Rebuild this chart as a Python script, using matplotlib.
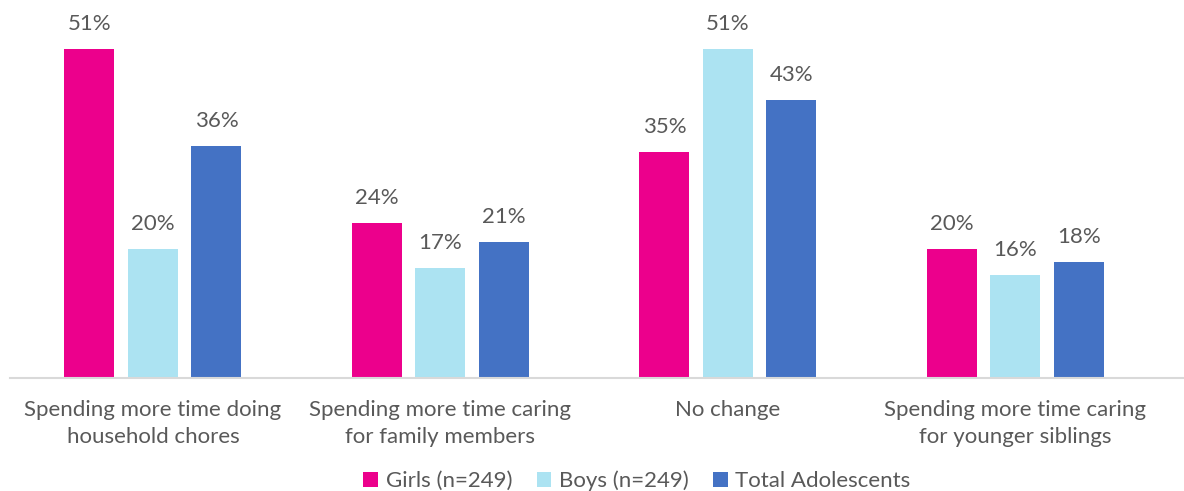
import numpy as np
import matplotlib.pyplot as plt

plt.rcParams['font.family'] = ['Lato', 'DejaVu Sans']

categories = ['Spending more time doing\nhousehold chores',
              'Spending more time caring\nfor family members',
              'No change',
              'Spending more time caring\nfor younger siblings']
series_names = ['Girls (n=249)', 'Boys (n=249)', 'Total Adolescents']
girls = [51, 24, 35, 20]
boys = [20, 17, 51, 16]
total = [36, 21, 43, 18]
colors = ['#EC008C', '#ACE3F2', '#4472C4']

text_c = '#595959'

fig = plt.figure(figsize=(11.84, 4.91), dpi=100)
ax = fig.add_axes([10 / 1184, 113 / 491, 1173 / 1184, 368 / 491])

x = np.arange(len(categories))
width = 0.174
step = 0.221

for i, (vals, name, c) in enumerate(zip([girls, boys, total], series_names, colors)):
    pos = x + (i - 1) * step
    ax.bar(pos, vals, width, color=c, label=name)
    for p, v in zip(pos, vals):
        ax.annotate(f'{v}%', (p, v), xytext=(0, 18), textcoords='offset points',
                    ha='center', va='center', fontsize=16, color=text_c)

ax.set_xlim(-0.497, 3.583)
ax.set_ylim(0, 57)
ax.set_yticks([])
ax.set_xticks(x)
ax.set_xticklabels(categories, fontsize=16, color=text_c, linespacing=1.45)
ax.tick_params(axis='x', length=0, pad=16)
for s in ['top', 'right', 'left']:
    ax.spines[s].set_visible(False)
ax.spines['bottom'].set_color('#D9D9D9')
ax.spines['bottom'].set_linewidth(1.5)

ax.legend(loc='center', bbox_to_anchor=(637 / 1184, 10 / 491),
          bbox_transform=fig.transFigure, ncol=3, frameon=False,
          fontsize=16, handlelength=0.65, handleheight=0.65,
          handletextpad=0.35, columnspacing=1.1, labelcolor=text_c)

fig.savefig('out.png', dpi=100)
